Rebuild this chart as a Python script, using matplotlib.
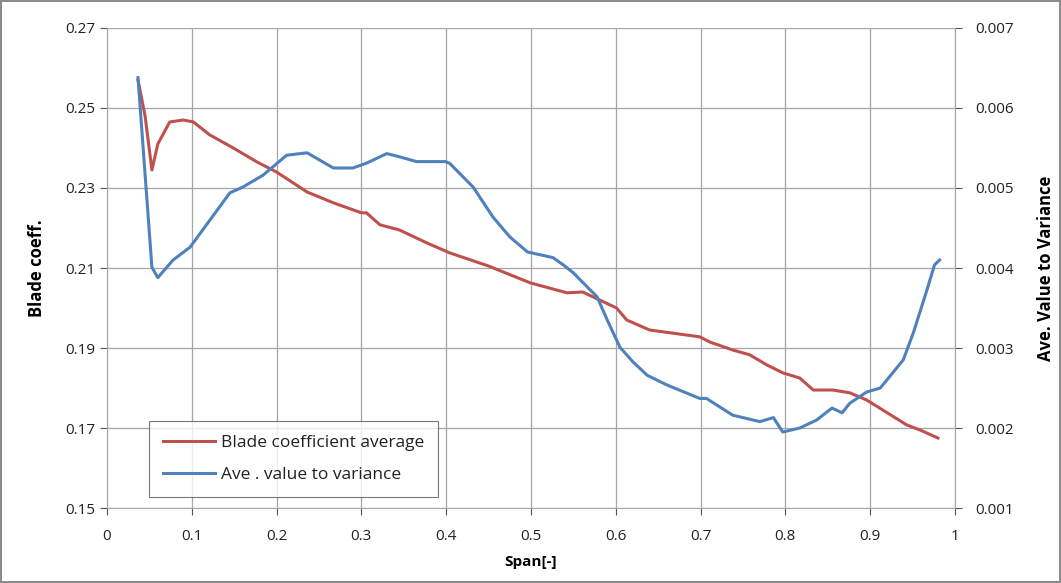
import matplotlib.pyplot as plt

plt.rcParams['font.family'] = ['Open Sans', 'DejaVu Sans']

# Blade coefficient average (left axis)
span_red = [0.0366, 0.045, 0.053, 0.060, 0.074, 0.090, 0.102, 0.121, 0.149, 0.177,
            0.200, 0.236, 0.267, 0.300, 0.306, 0.322, 0.345, 0.377, 0.404, 0.450,
            0.499, 0.5425, 0.561, 0.601, 0.613, 0.640, 0.699, 0.711, 0.738, 0.758,
            0.778, 0.797, 0.817, 0.833, 0.856, 0.876, 0.896, 0.943, 0.959, 0.980]
blade_coeff = [0.257, 0.248, 0.2345, 0.241, 0.2465, 0.247, 0.2465, 0.2433, 0.240, 0.2365,
               0.234, 0.229, 0.2263, 0.2238, 0.2238, 0.2208, 0.2195, 0.2163, 0.2138, 0.2105,
               0.2063, 0.2038, 0.204, 0.200, 0.197, 0.1945, 0.1928, 0.1915, 0.1895, 0.1883,
               0.1858, 0.1838, 0.1825, 0.1795, 0.1795, 0.1788, 0.177, 0.1708, 0.1695, 0.1675]

# Ave. value to variance (right axis)
span_blue = [0.0366, 0.053, 0.060, 0.078, 0.098, 0.145, 0.160, 0.184, 0.212, 0.236,
             0.267, 0.290, 0.306, 0.330, 0.345, 0.365, 0.399, 0.404, 0.432, 0.455,
             0.475, 0.496, 0.526, 0.538, 0.550, 0.570, 0.578, 0.590, 0.605, 0.620,
             0.637, 0.660, 0.699, 0.707, 0.738, 0.770, 0.786, 0.797, 0.817, 0.837,
             0.855, 0.867, 0.876, 0.896, 0.912, 0.939, 0.951, 0.967, 0.976, 0.982]
ave_var = [0.00638, 0.00401, 0.00388, 0.0041, 0.00426, 0.00494, 0.00501, 0.00516, 0.00541, 0.00544,
           0.00525, 0.00525, 0.00531, 0.00543, 0.00539, 0.00533, 0.00533, 0.00531, 0.00501, 0.00464,
           0.00439, 0.0042, 0.00413, 0.00404, 0.00394, 0.003725, 0.00364, 0.00335, 0.00301, 0.00283,
           0.00266, 0.00254, 0.00237, 0.00237, 0.00216, 0.00208, 0.00213, 0.00195, 0.0020, 0.0021,
           0.00225, 0.00219, 0.00231, 0.00245, 0.0025, 0.00285, 0.00319, 0.003725, 0.00404, 0.0041]

red = '#C0504D'
blue = '#4F81BD'
grid_c = '#A6A6A6'

fig = plt.figure(figsize=(10.61, 5.83), dpi=100)
fig.patch.set_edgecolor('#8C8C8C')
fig.patch.set_linewidth(1.5)
ax = fig.add_axes([0.1008, 0.1286, 0.7992, 0.8234])
ax2 = ax.twinx()

l1, = ax.plot(span_red, blade_coeff, color=red, lw=2.2, label='Blade coefficient average')
l2, = ax2.plot(span_blue, ave_var, color=blue, lw=2.2, label='Ave . value to variance')

ax.set_xlim(0, 1)
ax.set_ylim(0.15, 0.27)
ax2.set_ylim(0.001, 0.007)
ax.set_xticks([i / 10 for i in range(11)])
ax.set_xticklabels(['0', '0.1', '0.2', '0.3', '0.4', '0.5', '0.6', '0.7', '0.8', '0.9', '1'])
ax.set_yticks([0.15, 0.17, 0.19, 0.21, 0.23, 0.25, 0.27])
ax.set_yticklabels(['0.15', '0.17', '0.19', '0.21', '0.23', '0.25', '0.27'])
ax2.set_yticks([0.001, 0.002, 0.003, 0.004, 0.005, 0.006, 0.007])
ax2.set_yticklabels(['0.001', '0.002', '0.003', '0.004', '0.005', '0.006', '0.007'])

ax.grid(True, color=grid_c, lw=0.9)
for a in (ax, ax2):
    for s in a.spines.values():
        s.set_visible(False)
    a.tick_params(colors='#555555', labelcolor='#222222', labelsize=11, length=5, width=0.8)
ax.spines['left'].set_visible(True)
ax.spines['left'].set_color(grid_c)
ax.spines['bottom'].set_visible(True)
ax.spines['bottom'].set_color(grid_c)
ax2.spines['right'].set_visible(True)
ax2.spines['right'].set_color(grid_c)
ax.tick_params(axis='x', pad=10)
ax2.tick_params(axis='y', pad=10)

ax.set_xlabel('Span[-]', fontweight='bold', fontsize=11, labelpad=8)
ax.set_ylabel('Blade coeff.', fontweight='bold', fontsize=12, labelpad=14)
ax2.set_ylabel('Ave. Value to Variance', fontweight='bold', fontsize=12, labelpad=16)

leg = ax.legend(handles=[l1, l2], loc='lower left', bbox_to_anchor=(0.05, 0.023),
                fontsize=12.5, frameon=True, fancybox=False, edgecolor='#555555',
                borderpad=0.8, labelspacing=0.9, handlelength=3.0, handletextpad=0.3,
                borderaxespad=0)
leg.get_frame().set_linewidth(0.8)
for t in leg.get_texts():
    t.set_color('#222222')

fig.savefig('out.png', dpi=100)
